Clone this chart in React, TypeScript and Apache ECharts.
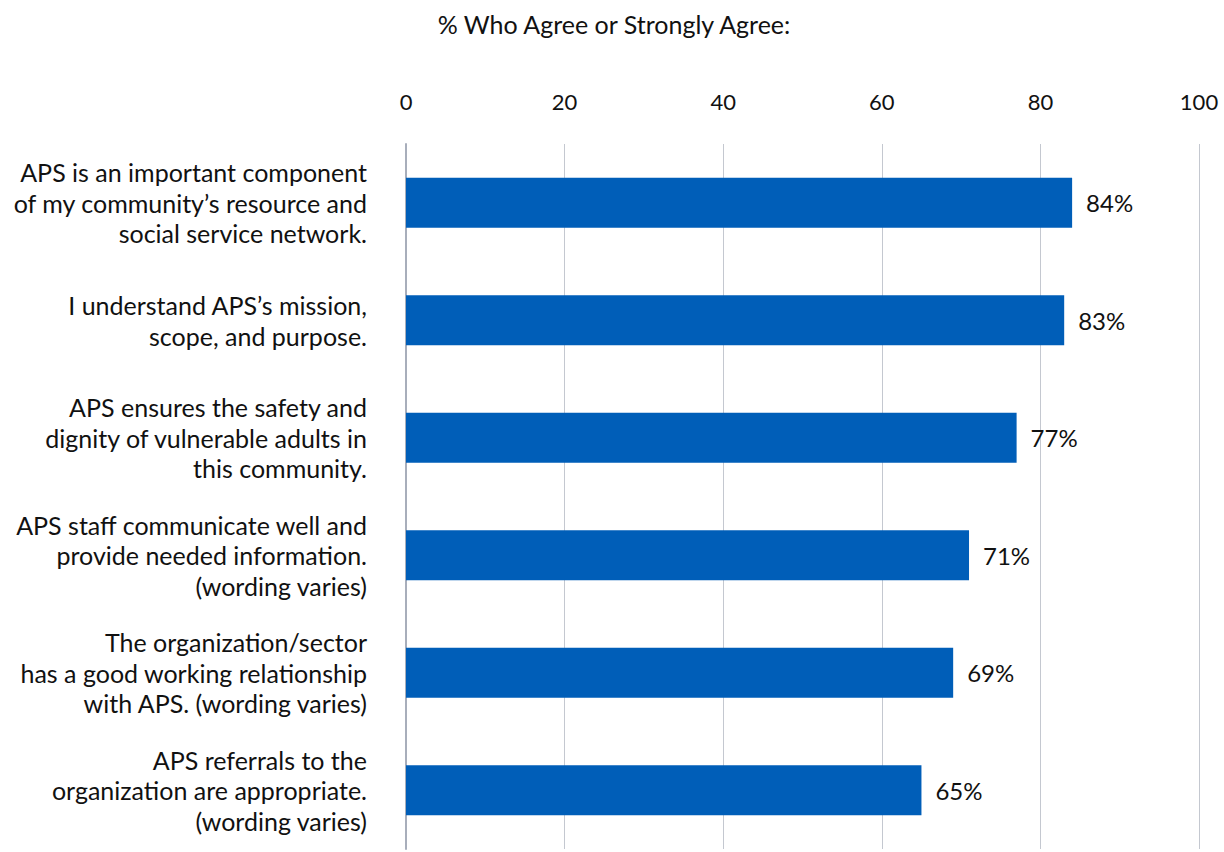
import React, { useEffect, useRef } from "react";
import * as echarts from "echarts";

const title = "% Who Agree or Strongly Agree:";
const categories = [
  "APS is an important component\nof my community’s resource and\nsocial service network.",
  "I understand APS’s mission,\nscope, and purpose.",
  "APS ensures the safety and\ndignity of vulnerable adults in\nthis community.",
  "APS staff communicate well and\nprovide needed information.\n(wording varies)",
  "The organization/sector\nhas a good working relationship\nwith APS. (wording varies)",
  "APS referrals to the\norganization are appropriate.\n(wording varies)",
];
const values = [84, 83, 77, 71, 69, 65];

const FONT = "Lato, 'Open Sans', sans-serif";

export default function App() {
  const ref = useRef<HTMLDivElement>(null);
  useEffect(() => {
    if (!ref.current) return;
    const chart = echarts.init(ref.current, null, { renderer: "svg" });
    chart.setOption({
      animation: false,
      backgroundColor: "#ffffff",
      title: {
        text: title,
        left: 609,
        top: 6,
        textAlign: "center",
        textStyle: { fontFamily: FONT, fontSize: 25, fontWeight: "normal", color: "#111" },
      },
      grid: { left: 406, right: 25, top: 144, bottom: 3, containLabel: false },
      xAxis: {
        type: "value",
        position: "top",
        min: 0,
        max: 100,
        interval: 20,
        axisLine: { show: false },
        axisTick: { show: false },
        splitLine: { show: true, lineStyle: { color: "#c4c8d0", width: 1 } },
        axisLabel: { fontFamily: FONT, fontSize: 22, color: "#111", margin: 32 },
      },
      yAxis: {
        type: "category",
        inverse: true,
        data: categories,
        axisLine: { show: true, lineStyle: { color: "#a8aebb", width: 2 } },
        axisTick: { show: false },
        axisLabel: {
          fontFamily: FONT,
          fontSize: 25,
          color: "#111",
          margin: 39,
          align: "right",
          lineHeight: 30.5,
        },
      },
      series: [
        {
          type: "bar",
          data: values,
          barWidth: 50,
          itemStyle: { color: "#005EB8" },
          label: {
            show: true,
            position: "right",
            distance: 14,
            formatter: "{c}%",
            fontFamily: FONT,
            fontSize: 24,
            color: "#111",
          },
        },
      ],
    });
    return () => chart.dispose();
  }, []);
  return <div ref={ref} style={{ width: 1224, height: 852, position: "absolute", left: 0, top: 0 }} />;
}
